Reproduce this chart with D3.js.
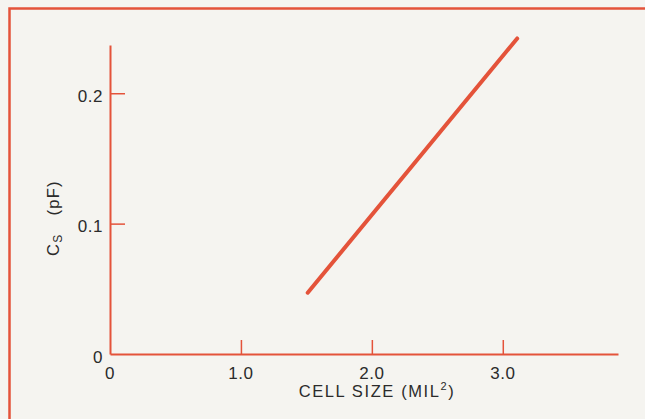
<!DOCTYPE html>
<html><head><meta charset="utf-8">
<script src="https://cdn.jsdelivr.net/npm/d3@7"></script>
<style>
html,body{margin:0;padding:0;background:#f5f4f0;}
svg{display:block;}
text{font-family:"Liberation Sans",Arial,sans-serif;fill:#2b2b2b;}
</style></head><body>
<svg id="c" width="645" height="419"></svg>
<script>
const xTicks = [0, 1.0, 2.0, 3.0];
const xTickLabels = ["0", "1.0", "2.0", "3.0"];
const yTicks = [0, 0.1, 0.2];
const yTickLabels = ["0", "0.1", "0.2"];
const cellSize = [1.51, 3.11];
const capacitance = [0.047, 0.242];

const red = "#e4533a";
const svg = d3.select("#c");
const x = d3.scaleLinear().domain([0, 3.88]).range([110, 618]);
const y = d3.scaleLinear().domain([0, 0.237]).range([354, 45]);

// frame
svg.append("path").attr("d", "M9.5,430 L9.5,8.5 L660,8.5")
  .attr("fill", "none").attr("stroke", red).attr("stroke-width", 2.5);

// x axis
const gx = svg.append("g").attr("transform", `translate(0,${y(0)})`)
  .call(d3.axisBottom(x).tickValues(xTicks.slice(1)).tickSize(-14).tickFormat("").tickSizeOuter(0));
gx.select(".domain").attr("stroke", red).attr("stroke-width", 2);
gx.selectAll(".tick line").attr("stroke", red).attr("stroke-width", 1.5);
svg.append("g").selectAll("text").data(xTicks).join("text")
  .attr("x", d => x(d)).attr("y", 379).attr("text-anchor", "middle")
  .style("font-size", "17px").style("letter-spacing", "0.5px").text((d, i) => xTickLabels[i]);

// y axis
const gy = svg.append("g").attr("transform", `translate(${x(0)},0)`)
  .call(d3.axisLeft(y).tickValues(yTicks.slice(1)).tickSize(-15).tickFormat("").tickSizeOuter(0));
gy.select(".domain").attr("stroke", red).attr("stroke-width", 2);
gy.selectAll(".tick line").attr("stroke", red).attr("stroke-width", 1.5);
svg.append("g").selectAll("text").data(yTicks).join("text")
  .attr("x", x(0) - 7).attr("y", d => y(d) + 8.5).attr("text-anchor", "end")
  .style("font-size", "17px").style("letter-spacing", "0.5px").text((d, i) => yTickLabels[i]);

// axis titles
const xt = svg.append("text").attr("x", 377).attr("y", 397).attr("text-anchor", "middle")
  .style("font-size", "16.5px").style("letter-spacing", "1.6px");
xt.append("tspan").text("CELL SIZE (MIL");
xt.append("tspan").attr("dy", -7).style("font-size", "11px").text("2");
xt.append("tspan").attr("dy", 7).text(")");

const yt = svg.append("text").attr("transform", "translate(59,218) rotate(-90)").attr("text-anchor", "middle")
  .style("font-size", "16.5px").style("letter-spacing", "1.3px");
yt.append("tspan").text("C");
yt.append("tspan").attr("dy", 3).style("font-size", "12px").text("S");
yt.append("tspan").attr("dy", -3).text("\u2003(pF)");

// data line
const pts = cellSize.map((v, i) => [v, capacitance[i]]);
svg.append("path").datum(pts)
  .attr("d", d3.line().x(d => x(d[0])).y(d => y(d[1])))
  .attr("fill", "none").attr("stroke", red).attr("stroke-width", 4).attr("stroke-linecap", "round");
</script>
</body></html>
